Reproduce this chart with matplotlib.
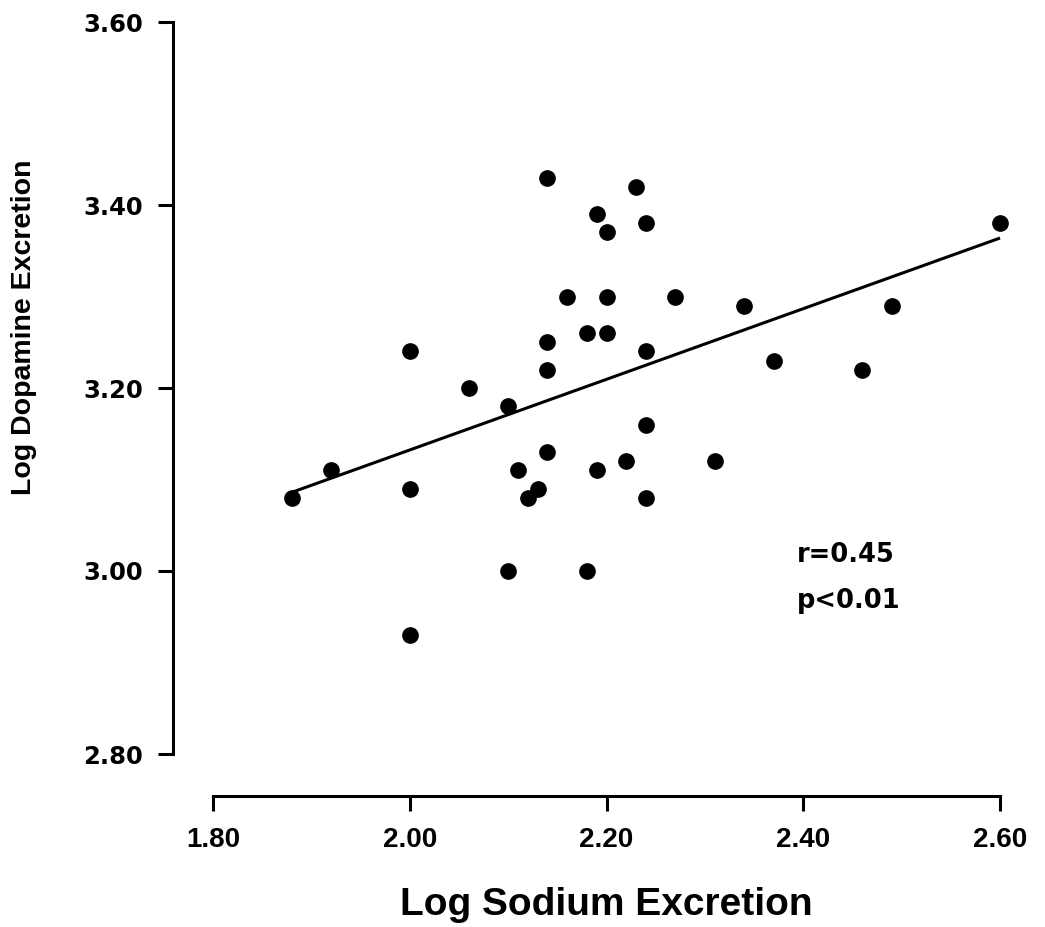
#!/usr/bin/env python3
import numpy as np
import matplotlib
matplotlib.use("Agg")
import matplotlib.pyplot as plt

# log sodium vs log dopamine excretion
sodium = [1.88, 1.92, 2.00, 2.00, 2.00, 2.06, 2.10, 2.10, 2.11, 2.12, 2.13, 2.14,
          2.14, 2.14, 2.14, 2.16, 2.18, 2.18, 2.19, 2.19, 2.20, 2.20, 2.20, 2.22,
          2.23, 2.24, 2.24, 2.24, 2.24, 2.27, 2.31, 2.34, 2.37, 2.46, 2.49, 2.60]
dopamine = [3.08, 3.11, 3.24, 3.09, 2.93, 3.20, 3.18, 3.00, 3.11, 3.08, 3.09, 3.43,
            3.25, 3.22, 3.13, 3.30, 3.26, 3.00, 3.39, 3.11, 3.37, 3.30, 3.26, 3.12,
            3.42, 3.38, 3.24, 3.16, 3.08, 3.30, 3.12, 3.29, 3.23, 3.22, 3.29, 3.38]

x_ticks = [1.80, 2.00, 2.20, 2.40, 2.60]
y_ticks = [2.80, 3.00, 3.20, 3.40, 3.60]
stats = ["r=0.45", "p<0.01"]

W, H = 1045, 927
fig = plt.figure(figsize=(W / 100, H / 100), dpi=100)
ax = fig.add_axes([213 / W, 173 / H, 787 / W, 732 / H])

x = np.array(sodium)
y = np.array(dopamine)

#regression line over the data range
slope, icpt = np.polyfit(x, y, 1)
xl = np.array([x.min(), x.max()])
ax.plot(xl, slope * xl + icpt, color="black", lw=2.2, solid_capstyle="butt", clip_on=False)

ax.plot(x, y, "o", color="black", ms=11, clip_on=False)

ax.set_xlim(1.80, 2.60)
ax.set_ylim(2.80, 3.60)

for side in ["top", "right"]:
    ax.spines[side].set_visible(False)
ax.spines["left"].set_position(("outward", 28.8))
ax.spines["bottom"].set_position(("outward", 30.2))
for side in ["left", "bottom"]:
    ax.spines[side].set_linewidth(2.2)

ax.set_xticks(x_ticks)
ax.set_xticklabels(["%.2f" % v for v in x_ticks], fontfamily="Liberation Sans",
                   fontweight="bold", fontsize=20)
ax.set_yticks(y_ticks)
ax.set_yticklabels(["%.2f" % v for v in y_ticks], fontfamily="DejaVu Sans",
                   fontweight="bold", fontsize=17.5)
ax.tick_params(axis="both", direction="out", length=10.5, width=2.2)
ax.tick_params(axis="x", pad=12)
ax.tick_params(axis="y", pad=11)

ax.set_xlabel("Log Sodium Excretion", fontfamily="Liberation Sans", fontweight="bold",
              fontsize=28, va="baseline")
ax.xaxis.set_label_coords(0.5, -0.22)
ax.set_ylabel("Log Dopamine Excretion", fontfamily="Liberation Sans", fontweight="bold",
              fontsize=20.5, va="center")
ax.yaxis.set_label_coords(-0.240, 0.583)

ax.text(2.394, 3.010, stats[0], fontfamily="DejaVu Sans", fontweight="bold",
        fontsize=18.5, va="baseline")
ax.text(2.394, 2.960, stats[1], fontfamily="DejaVu Sans", fontweight="bold",
        fontsize=18.5, va="baseline")

plt.savefig("out.png", dpi=100)
